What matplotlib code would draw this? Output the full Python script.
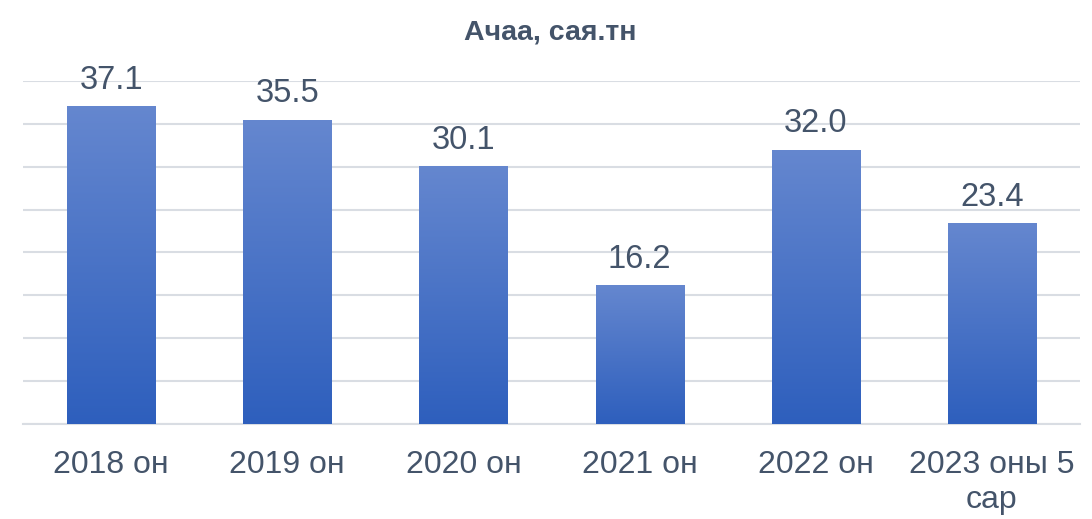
import numpy as np
import matplotlib
matplotlib.use('Agg')
import matplotlib.pyplot as plt
from matplotlib.colors import LinearSegmentedColormap

plt.rcParams['font.family'] = ['Liberation Sans', 'DejaVu Sans']

# data
categories = ['2018 он', '2019 он', '2020 он', '2021 он', '2022 он', '2023 оны 5\nсар']
values = [37.1, 35.5, 30.1, 16.2, 32.0, 23.4]
title = 'Ачаа, сая.тн'

textColor = '#44546a'
gridColor = '#d9dde3'

fig = plt.figure(figsize=(10.92, 5.19), dpi=100)
ax = fig.add_axes([23/1092, 95/519, 1057/1092, 343/519])

x = np.arange(len(categories))
bars = ax.bar(x, values, width=0.5, color='#4a74c8', zorder=2)

# vertical gradient inside each bar
grad = LinearSegmentedColormap.from_list('g', ['#2e5fbd', '#6587cf'])
gradImg = np.linspace(0, 1, 256).reshape(-1, 1)
for b in bars:
    x0, y0 = b.get_x(), b.get_y()
    w, h = b.get_width(), b.get_height()
    im = ax.imshow(gradImg, cmap=grad, origin='lower', aspect='auto',
                   extent=[x0, x0 + w, y0, y0 + h], zorder=3)
    im.set_clip_path(b)
    ax.text(x0 + w / 2, h + 1.2, '%.1f' % h, ha='center', va='bottom',
            fontsize=23.5, color=textColor)

ax.set_xlim(-0.5, len(categories) - 0.5)
ax.set_ylim(0, 40)
ax.set_yticks(np.arange(0, 41, 5))
ax.yaxis.grid(True, color=gridColor, linewidth=1.5, zorder=0)
ax.set_axisbelow(True)
ax.tick_params(axis='y', left=False, labelleft=False)
ax.tick_params(axis='x', bottom=False, labelsize=23, labelcolor=textColor, pad=15)
ax.set_xticks(x)
ax.set_xticklabels(categories, linespacing=1.25)
for s in ['top', 'right', 'left']:
    ax.spines[s].set_visible(False)
ax.spines['bottom'].set_color(gridColor)
ax.spines['bottom'].set_linewidth(1.5)

fig.text(550/1092, 1 - 32/519, title, ha='center', va='center',
         fontsize=20.5, fontweight='bold', color=textColor)

fig.savefig('out.png', dpi=100)
